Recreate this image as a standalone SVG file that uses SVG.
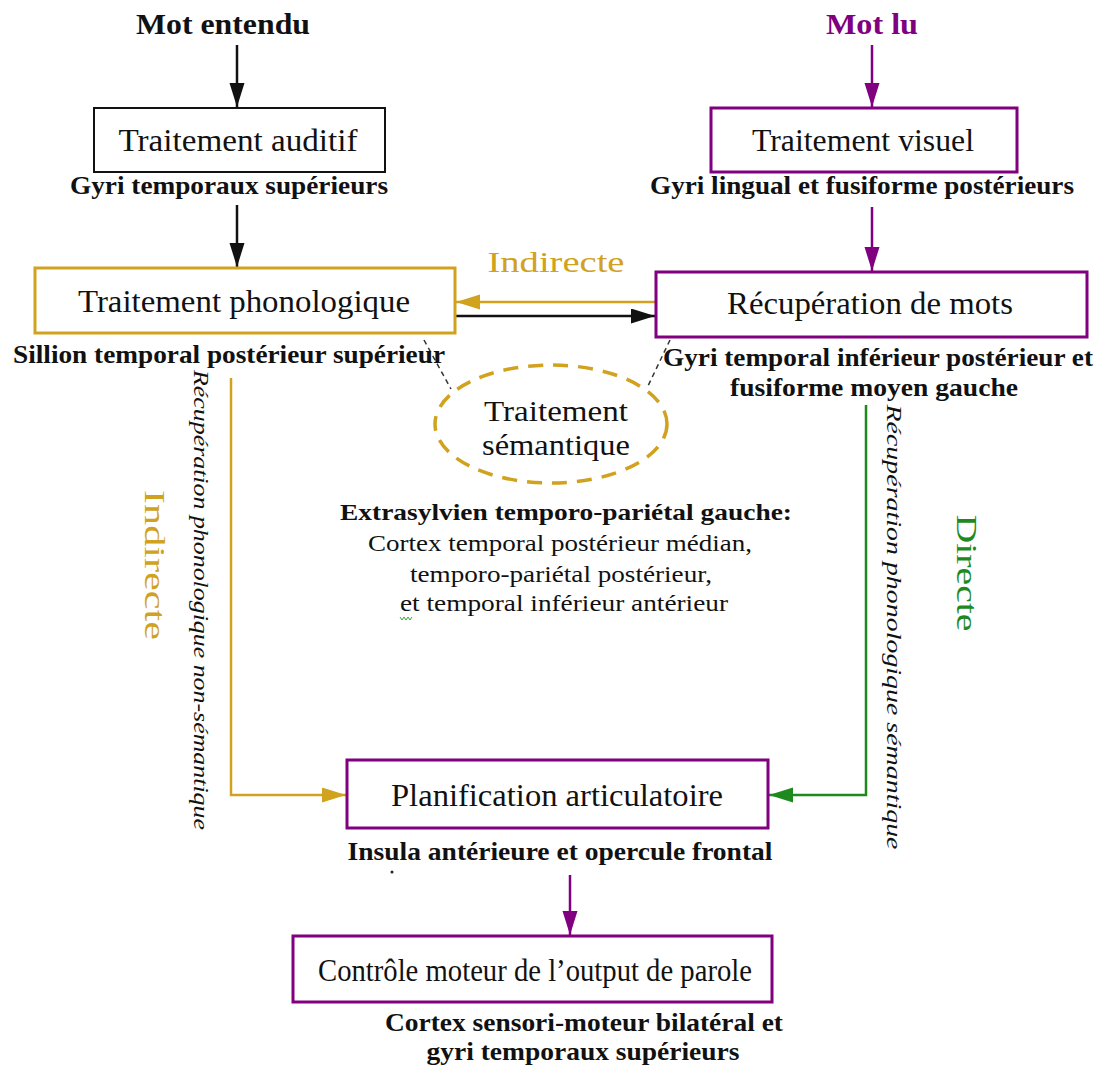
<svg xmlns="http://www.w3.org/2000/svg" width="1102" height="1068" viewBox="0 0 1102 1068">
  <defs>
    <style>
      text { font-family: "Liberation Serif", "Times New Roman", serif; fill: #111; }
      .title { font-size: 30px; font-weight: bold; text-anchor: middle; }
      .lbl { font-size: 31px; text-anchor: middle; }
      .area { font-size: 25px; font-weight: bold; text-anchor: middle; }
      .sem { font-size: 23px; text-anchor: middle; }
      .vert { font-size: 22px; font-style: italic; text-anchor: middle; }
      .path-name { font-size: 30px; text-anchor: middle; }
      .box { fill: #fff; stroke-width: 3; }
      .k { stroke: #111; }
      .p { stroke: #800080; }
      .g { stroke: #D1A21E; }
      .conn { fill: none; stroke-width: 2.5; }
    </style>
    <marker id="ah-k" markerUnits="userSpaceOnUse" markerWidth="26" markerHeight="16" refX="24" refY="7.5" orient="auto">
      <path d="M0,0 L24,7.5 L0,15 z" fill="#111"/>
    </marker>
    <marker id="ah-p" markerUnits="userSpaceOnUse" markerWidth="26" markerHeight="16" refX="24" refY="7.5" orient="auto">
      <path d="M0,0 L24,7.5 L0,15 z" fill="#800080"/>
    </marker>
    <marker id="ah-g" markerUnits="userSpaceOnUse" markerWidth="26" markerHeight="16" refX="24" refY="7.5" orient="auto">
      <path d="M0,0 L24,7.5 L0,15 z" fill="#D1A21E"/>
    </marker>
    <marker id="ah-v" markerUnits="userSpaceOnUse" markerWidth="26" markerHeight="16" refX="24" refY="7.5" orient="auto">
      <path d="M0,0 L24,7.5 L0,15 z" fill="#1E8A1E"/>
    </marker>
  </defs>

  <rect width="1102" height="1068" fill="#fff"/>

  <!-- inputs -->
  <g id="mot-entendu">
    <text class="title" x="223" y="34" textLength="174" lengthAdjust="spacingAndGlyphs">Mot entendu</text>
  </g>
  <g id="mot-lu">
    <text class="title" x="872" y="34" style="fill:#800080" textLength="92" lengthAdjust="spacingAndGlyphs">Mot lu</text>
  </g>

  <!-- connectors -->
  <g id="connectors">
    <line class="conn k" x1="237" y1="45" x2="237" y2="107" marker-end="url(#ah-k)"/>
    <line class="conn k" x1="237" y1="205" x2="237" y2="267" marker-end="url(#ah-k)"/>
    <line class="conn p" x1="872" y1="45" x2="872" y2="107" marker-end="url(#ah-p)"/>
    <line class="conn p" x1="872" y1="207" x2="872" y2="271" marker-end="url(#ah-p)"/>
    <line class="conn g" x1="656" y1="302" x2="456" y2="302" marker-end="url(#ah-g)"/>
    <line class="conn k" x1="455" y1="316" x2="655" y2="316" marker-end="url(#ah-k)"/>
    <polyline class="conn g" points="231,378 231,795 346,795" marker-end="url(#ah-g)"/>
    <polyline class="conn" stroke="#1E8A1E" points="866,405 866,795 769,795" marker-end="url(#ah-v)"/>
    <line class="conn p" x1="570" y1="875" x2="570" y2="935" marker-end="url(#ah-p)"/>
    <line stroke="#333" stroke-width="1.5" stroke-dasharray="5 4" x1="424" y1="340" x2="451" y2="389"/>
    <line stroke="#333" stroke-width="1.5" stroke-dasharray="5 4" x1="670" y1="340" x2="647" y2="388"/>
  </g>

  <!-- auditory processing -->
  <g id="traitement-auditif">
    <rect class="box k" x="94" y="108" width="291" height="64" style="stroke-width:2"/>
    <text class="lbl" x="238" y="151" textLength="239" lengthAdjust="spacingAndGlyphs">Traitement auditif</text>
    <text class="area" x="229" y="194" textLength="318" lengthAdjust="spacingAndGlyphs">Gyri temporaux supérieurs</text>
  </g>

  <!-- visual processing -->
  <g id="traitement-visuel">
    <rect class="box p" x="711" y="108" width="306" height="64"/>
    <text class="lbl" x="863" y="151" textLength="222" lengthAdjust="spacingAndGlyphs">Traitement visuel</text>
    <text class="area" x="862" y="194" textLength="424" lengthAdjust="spacingAndGlyphs">Gyri lingual et fusiforme postérieurs</text>
  </g>

  <!-- phonological processing -->
  <g id="traitement-phonologique">
    <rect class="box g" x="35" y="268" width="420" height="65"/>
    <text class="lbl" x="244" y="312" textLength="332" lengthAdjust="spacingAndGlyphs">Traitement phonologique</text>
    <text class="area" x="229" y="363" textLength="432" lengthAdjust="spacingAndGlyphs">Sillion temporal postérieur supérieur</text>
  </g>

  <text class="path-name" x="556" y="272" style="fill:#D1A21E" textLength="137" lengthAdjust="spacingAndGlyphs">Indirecte</text>

  <!-- word retrieval -->
  <g id="recuperation-mots">
    <rect class="box p" x="656" y="272" width="431" height="65"/>
    <text class="lbl" x="870" y="314" textLength="286" lengthAdjust="spacingAndGlyphs">Récupération de mots</text>
    <text class="area" x="878" y="366" textLength="430" lengthAdjust="spacingAndGlyphs">Gyri temporal inférieur postérieur et</text>
    <text class="area" x="874" y="396" textLength="288" lengthAdjust="spacingAndGlyphs">fusiforme moyen gauche</text>
  </g>

  <!-- semantic processing -->
  <g id="traitement-semantique">
    <ellipse cx="551" cy="424" rx="116" ry="59" fill="none" stroke="#D1A21E" stroke-width="3.5" stroke-dasharray="15 10"/>
    <text class="lbl" x="556" y="421" style="font-size:29px" textLength="144" lengthAdjust="spacingAndGlyphs">Traitement</text>
    <text class="lbl" x="556" y="455" style="font-size:29px" textLength="148" lengthAdjust="spacingAndGlyphs">sémantique</text>
    <text class="sem" x="566" y="520" style="font-weight:bold" textLength="452" lengthAdjust="spacingAndGlyphs">Extrasylvien temporo-pariétal gauche:</text>
    <text class="sem" x="560" y="551" textLength="384" lengthAdjust="spacingAndGlyphs">Cortex temporal postérieur médian,</text>
    <text class="sem" x="561" y="582" textLength="302" lengthAdjust="spacingAndGlyphs">temporo-pariétal postérieur,</text>
    <text class="sem" x="564" y="611" textLength="328" lengthAdjust="spacingAndGlyphs">et temporal inférieur antérieur</text>
    <path d="M400,617 l2,3 l2,-3 l2,3 l2,-3 l2,3 l2,-3" fill="none" stroke="#3a3" stroke-width="1"/>
  </g>

  <!-- pathway labels -->
  <g id="voie-indirecte">
    <text class="path-name" transform="translate(145,565) rotate(90)" style="fill:#D1A21E" textLength="150" lengthAdjust="spacingAndGlyphs">Indirecte</text>
    <text class="vert" transform="translate(194,600) rotate(90)" textLength="460" lengthAdjust="spacingAndGlyphs">Récupération phonologique non-sémantique</text>
  </g>
  <g id="voie-directe">
    <text class="path-name" transform="translate(957,573) rotate(90)" style="fill:#1E8A1E" textLength="117" lengthAdjust="spacingAndGlyphs">Directe</text>
    <text class="vert" transform="translate(887,627) rotate(90)" textLength="445" lengthAdjust="spacingAndGlyphs">Récupération phonologique sémantique</text>
  </g>

  <!-- articulatory planning -->
  <g id="planification-articulatoire">
    <rect class="box p" x="347" y="760" width="421" height="68"/>
    <text class="lbl" x="557" y="806" textLength="332" lengthAdjust="spacingAndGlyphs">Planification articulatoire</text>
    <text class="area" x="560" y="860" textLength="425" lengthAdjust="spacingAndGlyphs">Insula antérieure et opercule frontal</text>
    <circle cx="392" cy="872" r="1.5" fill="#222"/>
  </g>

  <!-- motor control -->
  <g id="controle-moteur">
    <rect class="box p" x="293" y="936" width="479" height="66"/>
    <text class="lbl" x="535" y="981" textLength="434" lengthAdjust="spacingAndGlyphs">Contrôle moteur de l’output de parole</text>
    <text class="area" x="584" y="1031" textLength="398" lengthAdjust="spacingAndGlyphs">Cortex sensori-moteur bilatéral et</text>
    <text class="area" x="583" y="1060" textLength="313" lengthAdjust="spacingAndGlyphs">gyri temporaux supérieurs</text>
  </g>
</svg>
